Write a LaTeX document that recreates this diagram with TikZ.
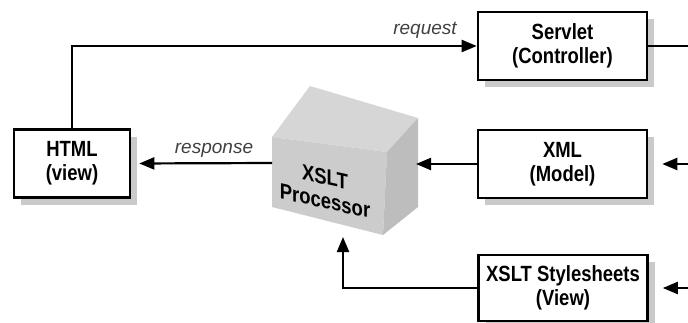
\documentclass[tikz,border=0pt]{standalone}
\usepackage{fontspec}
\setmainfont{Liberation Sans}[FakeStretch=0.84]
\newfontfamily\lblfont{Liberation Sans}
\usetikzlibrary{shadows,arrows.meta}

\tikzset{
  mvcbox/.style={draw, line width=2.6pt, fill=white, align=center,
    font=\fontsize{22}{24}\selectfont\bfseries, minimum height=68pt,
    drop shadow={shadow xshift=7pt, shadow yshift=-7pt, fill=black!35, opacity=0.6}},
  flow/.style={line width=2.2pt, -{Triangle[length=15pt,width=12pt]}},
  wire/.style={line width=2.2pt},
  lbl/.style={font=\lblfont\fontsize{19}{19}\selectfont\itshape, text=black!75},
}

\begin{document}
\begin{tikzpicture}[x=1pt,y=-1pt]
  \useasboundingbox (0,0) rectangle (688,322);

  % boxes
  \node[mvcbox, minimum width=116pt] (html) at (72,163.5) {HTML\\(view)};
  \node[mvcbox, minimum width=169pt] (servlet) at (562.5,46) {Servlet\\(Controller)};
  \node[mvcbox, minimum width=169pt] (xml) at (562.5,164) {XML\\(Model)};
  \node[mvcbox, minimum width=169pt, minimum height=66pt] (xsl) at (563,288) {XSLT Stylesheets\\(View)};

  % the processor cube
  \coordinate (pA) at (272,137);
  \coordinate (pB) at (387,152);
  \coordinate (pC) at (383,235);
  \coordinate (pD) at (272,207);
  \coordinate (pE) at (310,86);
  \coordinate (pF) at (418,118);
  \coordinate (pG) at (418,207);
  \fill[gray!32] (pA) -- (pE) -- (pF) -- (pB) -- cycle;
  \fill[gray!40] (pA) -- (pB) -- (pC) -- (pD) -- cycle;
  \fill[gray!52] (pB) -- (pF) -- (pG) -- (pC) -- cycle;
  \node[align=center, yslant=-0.22, inner sep=0pt, font=\fontsize{22}{24}\selectfont\bfseries] (proc) at (325,189) {XSLT\\Processor};
  \coordinate (procL) at (272,163);
  \coordinate (procR) at (416,164);
  \coordinate (procB) at (343,237);

  % free ends on the right
  \coordinate (outS) at (688,46);
  \coordinate (inX) at (688,164);
  \coordinate (inV) at (688,288);

  % connectors
  \draw[flow] (html.north) |- (servlet.west);
  \draw[wire] (servlet.east) -- (outS);
  \draw[flow, shorten >=14pt] (inX) -- (xml.east);
  \draw[flow, shorten >=14pt] (inV) -- (xsl.east);
  \draw[flow] (xml.west) -- (procR);
  \draw[flow] (xsl.west) -| (procB);
  \draw[flow, shorten >=8pt] (procL) -- (html.east);

  \node[lbl] (req) at (425,30) {request};
  \node[lbl] (resp) at (214,150) {response};
\end{tikzpicture}
\end{document}
